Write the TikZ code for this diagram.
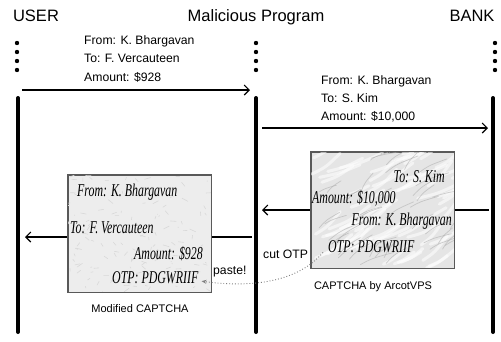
\documentclass[tikz,border=0pt]{standalone}
\usepackage{fontspec}
\setmainfont{Liberation Sans}
\newfontfamily\handfam{Liberation Serif}[FakeStretch=0.66]
\usetikzlibrary{arrows.meta}
\newcommand\handfnt{\handfam\itshape\fontsize{18}{19}\selectfont}
\begin{document}
\begin{tikzpicture}[x=1pt,y=-1pt,
  life/.style={line width=4pt,line cap=round},
  dotm/.style={circle,fill=black,inner sep=0pt,minimum size=4.4pt},
  msg/.style={line width=1.1pt,-{Straight Barb[length=5pt,width=10pt,line width=1.1pt]}},
  lbl/.style={anchor=base west,inner sep=0pt,font=\fontsize{12.2}{13}\selectfont},
  ttl/.style={anchor=base,inner sep=0pt,font=\fontsize{16.5}{18}\selectfont},
  captxt/.style={anchor=base,inner sep=0pt,font=\fontsize{11}{12}\selectfont},
  hand/.style={inner sep=0pt,font=\handfnt},
  card/.style={draw=gray!70!black,line width=0.6pt}]
\useasboundingbox (0,0) rectangle (501,341);
\fill[white] (0,0) rectangle (501,341);
% titles
\node[ttl] (tu) at (36,21) {USER};
\node[ttl] (tm) at (256,21) {Malicious Program};
\node[ttl] (tb) at (472,21) {BANK};
% dots
\foreach \y [count=\i] in {43,52,61,70}{
  \node[dotm] (ud\i) at (17,\y) {};
  \node[dotm] (md\i) at (256,\y) {};
  \node[dotm] (bd\i) at (495,\y) {};
}
% lifelines
\coordinate (ut) at (18,98); \coordinate (ub) at (18,332);
\coordinate (mt) at (256,98); \coordinate (mb) at (256,332);
\coordinate (bt) at (493,98); \coordinate (bb) at (493,332);
\draw[life] (ut) -- (ub);
\draw[life] (mt) -- (mb);
\draw[life] (bt) -- (bb);
% message 1
\coordinate (a1s) at (22,90); \coordinate (a1e) at (250,90);
\draw[msg] (a1s) -- (a1e);
\node[lbl] (l1a) at (84,44) {From: K. Bhargavan};
\node[lbl] (l1b) at (84,62) {To: F. Vercauteen};
\node[lbl] (l1c) at (84,81) {Amount: \$928};
% message 2
\coordinate (a2s) at (262,128); \coordinate (a2e) at (488,128);
\draw[msg] (a2s) -- (a2e);
\node[lbl] (l2a) at (321,84) {From: K. Bhargavan};
\node[lbl] (l2b) at (321,102) {To: S. Kim};
\node[lbl] (l2c) at (321,120) {Amount: \$10,000};
% message 3 (bank -> malicious)
\coordinate (a3s) at (489,210); \coordinate (a3e) at (262,210);
\draw[msg] (a3s) -- (a3e);
% message 4 (malicious -> user)
\coordinate (a4s) at (252,237); \coordinate (a4e) at (25,237);
\draw[msg] (a4s) -- (a4e);
% right captcha
\begin{scope}
\node[card,fill=gray!20,minimum width=143pt,minimum height=116pt,inner sep=0pt] (rc) at (382.5,210) {};
\clip (311,152) rectangle (454,268);
\pgfmathsetseed{7}
\foreach \k in {1,...,60}{
  \pgfmathsetmacro\xa{311+143*rnd}
  \pgfmathsetmacro\ya{152+116*rnd}
  \pgfmathsetmacro\dx{20+25*rnd}
  \pgfmathsetmacro\dy{-10-15*rnd}
  \draw[white,line width=3pt,opacity=0.55,line cap=round] (\xa,\ya) .. controls +(\dx/2,\dy/3) .. +(\dx,\dy);
}
\foreach \k in {1,...,45}{
  \pgfmathsetmacro\xa{311+143*rnd}
  \pgfmathsetmacro\ya{152+116*rnd}
  \pgfmathsetmacro\dx{10+25*rnd}
  \pgfmathsetmacro\dy{-6-14*rnd}
  \draw[gray!65,line width=0.7pt,opacity=0.55,line cap=round] (\xa,\ya) .. controls +(\dx/3,\dy/2) .. +(\dx,\dy);
}
\end{scope}
\draw[card] (rc.north west) rectangle (rc.south east);
\node[hand,anchor=base east] (r1) at (445,182) {To: S. Kim};
\node[hand,anchor=base west] (r2) at (312,203) {Amount: \$10,000};
\node[hand,anchor=base east] (r3) at (452,225) {From: K. Bhargavan};
\node[hand,anchor=base west] (r4) at (328,252) {OTP: PDGWRIIF};
\node[captxt] (rcap) at (373,289) {CAPTCHA by ArcotVPS};
% left captcha
\begin{scope}
\node[card,fill=gray!14,minimum width=143pt,minimum height=117pt,inner sep=0pt] (lc) at (139.5,233.5) {};
\clip (68,175) rectangle (211,292);
\pgfmathsetseed{3}
\foreach \k in {1,...,140}{
  \pgfmathsetmacro\xa{68+143*rnd}
  \pgfmathsetmacro\ya{175+117*rnd}
  \pgfmathsetmacro\dx{-6+12*rnd}
  \pgfmathsetmacro\dy{-4+8*rnd}
  \draw[gray!30,line width=0.6pt,line cap=round] (\xa,\ya) -- +(\dx,\dy);
}
\end{scope}
\draw[card] (lc.north west) rectangle (lc.south east);
\node[hand,anchor=base west] (q1) at (77,196) {From: K. Bhargavan};
\node[hand,anchor=base west] (q2) at (70,233) {To: F. Vercauteen};
\node[hand,anchor=base east] (q3) at (203,259) {Amount: \$928};
\node[hand,anchor=base west] (q4) at (112,283) {OTP: PDGWRIIF};
\node[captxt] (lcap) at (140,312) {Modified CAPTCHA};
% cut / paste
\node[lbl] (cut) at (263,258) {cut OTP};
\node[lbl] (paste) at (213,274) {paste!};
\draw[gray,dotted,line width=0.9pt,-{Stealth[length=5pt,width=4pt]}] (r4.south west) ++(-5,0) .. controls (295,285) and (245,287) .. ([xshift=3pt,yshift=-4pt]q4.east);
\end{tikzpicture}
\end{document}
